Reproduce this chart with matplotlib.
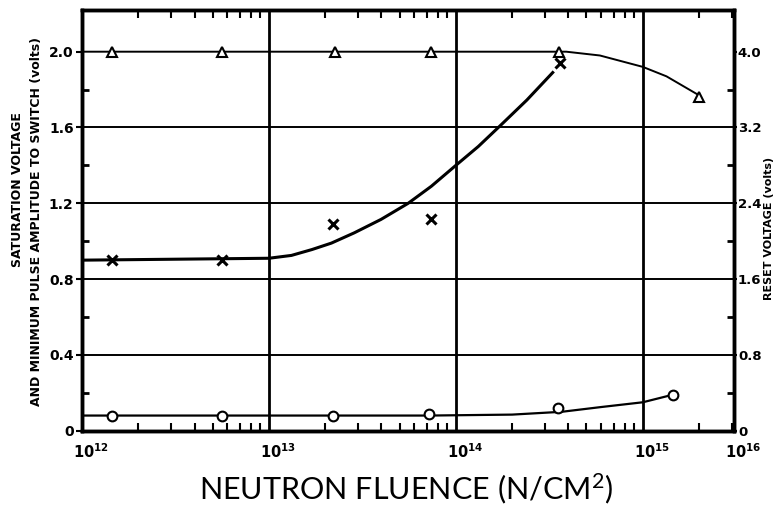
import numpy as np
import matplotlib
matplotlib.use("Agg")
import matplotlib.pyplot as plt
import matplotlib.transforms as mtransforms
from matplotlib.ticker import LogLocator, NullFormatter, FixedLocator

# ---- data ----
tri_x = [1.44e12, 5.6e12, 2.27e13, 7.4e13, 3.55e14, 2.0e15]
tri_y = [2.0, 2.0, 2.0, 2.0, 2.0, 1.76]
tri_curve_x = [1e12, 1e14, 2.0e14, 3.9e14, 5.9e14, 1e15, 1.34e15, 2.0e15]
tri_curve_y = [2.0, 2.0, 2.0, 2.0, 1.98, 1.92, 1.87, 1.77]

crs_x = [1.44e12, 5.6e12, 2.2e13, 7.4e13, 3.6e14]
crs_y = [0.90, 0.90, 1.09, 1.115, 1.94]
crs_curve_x = [1e12, 1.0e13, 1.32e13, 1.7e13, 2.16e13, 2.86e13, 3.98e13, 5.56e13,
               7.4e13, 1e14, 1.32e14, 1.73e14, 2.4e14, 3.3e14]
crs_curve_y = [0.90, 0.91, 0.925, 0.956, 0.99, 1.044, 1.115, 1.20,
               1.29, 1.40, 1.50, 1.61, 1.745, 1.89]

cir_x = [1.44e12, 5.6e12, 2.2e13, 7.2e13, 3.5e14, 1.45e15]
cir_y = [0.08, 0.08, 0.08, 0.09, 0.12, 0.19]
cir_curve_x = [1e12, 7.2e13, 2.0e14, 3.7e14, 6.0e14, 1e15, 1.45e15]
cir_curve_y = [0.08, 0.08, 0.085, 0.10, 0.125, 0.15, 0.19]

xtick_vals = [1e12, 1e13, 1e14, 1e15, 10 ** 15.487]
xtick_labels = [r"$\mathbf{10^{12}}$", r"$\mathbf{10^{13}}$", r"$\mathbf{10^{14}}$",
                r"$\mathbf{10^{15}}$", r"$\mathbf{10^{16}}$"]
ytick_vals = [0, 0.4, 0.8, 1.2, 1.6, 2.0]
ytick_labels = ["0", "0.4", "0.8", "1.2", "1.6", "2.0"]
rtick_labels = ["0", "0.8", "1.6", "2.4", "3.2", "4.0"]

plt.rcParams['mathtext.fontset'] = 'dejavusans'
plt.rcParams['mathtext.rm'] = 'Lato'
plt.rcParams['mathtext.it'] = 'Lato'
plt.rcParams['mathtext.bf'] = 'Lato'

fig = plt.figure(figsize=(7.74, 5.13), dpi=100)
ax = fig.add_axes([0.1059, 0.1604, 0.948 - 0.1059, 0.9805 - 0.1604])
ax.set_xscale('log')
ax.set_xlim(1e12, 10 ** 15.487)
ax.set_ylim(0, 2.22)

# grid lines
for v in [0.4, 0.8, 1.2, 1.6]:
    ax.axhline(v, color='black', lw=1.4, zorder=1)
for v in [1e13, 1e14, 1e15]:
    ax.axvline(v, color='black', lw=2.0, zorder=1)

# curves
ax.plot(tri_curve_x, tri_curve_y, color='black', lw=1.4, zorder=2)
ax.plot(crs_curve_x, crs_curve_y, color='black', lw=2.2, zorder=2)
ax.plot(cir_curve_x, cir_curve_y, color='black', lw=1.6, zorder=2)

# markers
ax.plot(tri_x, tri_y, ls='none', marker='^', ms=7, mfc='white', mec='black', mew=1.5, zorder=3)
ax.plot(crs_x, crs_y, ls='none', marker='x', ms=7, mec='black', mew=2.2, zorder=3)
ax.plot(cir_x, cir_y, ls='none', marker='o', ms=7, mfc='white', mec='black', mew=1.5, zorder=3)

for s in ax.spines.values():
    s.set_linewidth(2.5)

ax.xaxis.set_major_locator(FixedLocator(xtick_vals))
ax.set_xticklabels(xtick_labels, fontsize=10.5)
ax.xaxis.set_minor_locator(LogLocator(base=10, subs=np.arange(2, 10), numticks=20))
ax.xaxis.set_minor_formatter(NullFormatter())
ax.tick_params(axis='x', which='major', direction='in', length=0, pad=8, top=True)
ax.tick_params(axis='x', which='minor', direction='in', length=6, width=1.5, top=True, bottom=True)
offset = mtransforms.ScaledTranslation(9 / 100, 0, fig.dpi_scale_trans)
for lab in ax.get_xticklabels():
    lab.set_transform(lab.get_transform() + offset)

ax.set_yticks(ytick_vals)
ax.set_yticklabels(ytick_labels, fontsize=10, fontweight='bold')
ax.set_yticks([0.2, 0.6, 1.0, 1.4, 1.8], minor=True)
ax.tick_params(axis='y', which='major', direction='out', length=4, width=1.5, pad=2)
ax.tick_params(axis='y', which='minor', direction='in', length=5, width=2)

ax2 = ax.twinx()
ax2.set_ylim(0, 2.22)
ax2.set_yticks(ytick_vals)
ax2.set_yticklabels(rtick_labels, fontsize=9.5, fontweight='bold')
ax2.set_yticks([0.2, 0.6, 1.0, 1.4, 1.8], minor=True)
ax2.tick_params(axis='y', which='major', direction='out', length=2, width=1.5, pad=1)
ax2.tick_params(axis='y', which='minor', direction='in', length=5, width=2)
for s in ax2.spines.values():
    s.set_linewidth(2.5)

fig.text(18 / 774, 1 - 190 / 513, "SATURATION VOLTAGE", rotation=90, ha='center', va='center',
         fontsize=9, fontweight='bold')
fig.text(37 / 774, 1 - 221 / 513, "AND MINIMUM PULSE AMPLITUDE TO SWITCH (volts)", rotation=90,
         ha='center', va='center', fontsize=9, fontweight='bold')
fig.text(769 / 774, 1 - 228 / 513, "RESET VOLTAGE (volts)", rotation=90, ha='center', va='center',
         fontsize=8, fontweight='bold')

xl = fig.text(0.525, 1 - 489 / 513, r"NEUTRON FLUENCE (N/CM$^2$)", ha='center', va='center',
              fontsize=22, family='Lato', fontweight='normal')
xl.set_math_fontfamily('custom')

fig.savefig("out.png", dpi=100)
